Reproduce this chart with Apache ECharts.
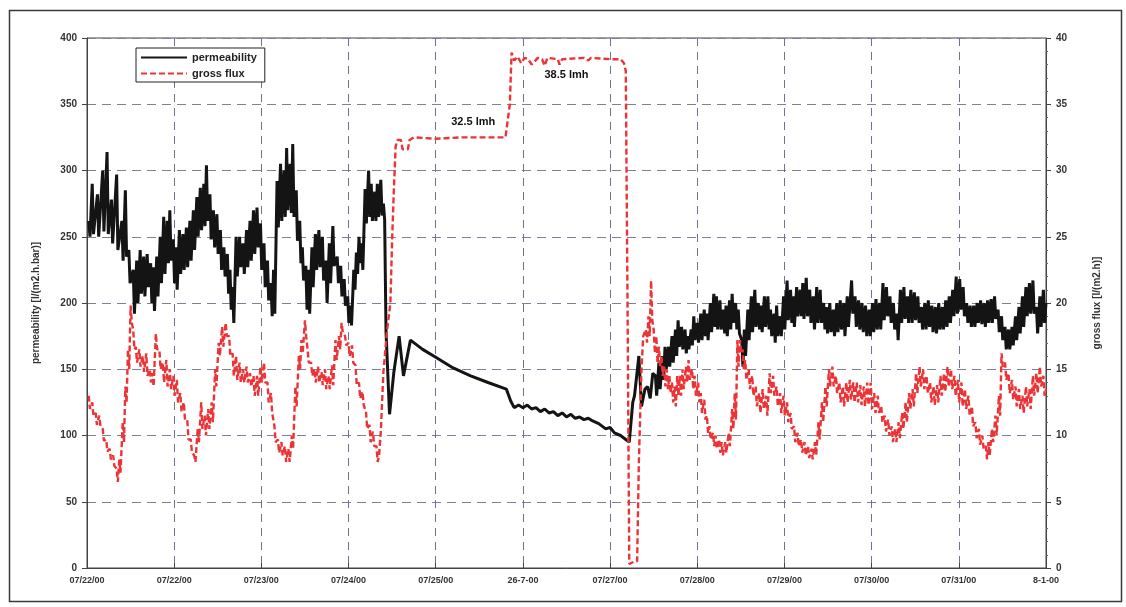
<!DOCTYPE html>
<html>
<head>
<meta charset="utf-8">
<script src="https://cdn.jsdelivr.net/npm/echarts@6/dist/echarts.min.js"></script>
<style>html,body{margin:0;padding:0;background:#fff;}#c{width:1126px;height:607px;}</style>
</head>
<body>
<div id="c"></div>
<script>
// x values are days from the first tick (0) to the last tick (11)
const tickLabels = ['07/22/00','07/22/00','07/23/00','07/24/00','07/25/00','26-7-00','07/27/00','07/28/00','07/29/00','07/30/00','07/31/00','8-1-00'];
const seriesNames = ['permeability', 'gross flux'];
const annotations = [
  { day: 4.43, flux: 33.7, text: '32.5 lmh' },
  { day: 5.50, flux: 37.2, text: '38.5 lmh' }
];
// permeability rows: [day, high, low] (noisy band) or [day, value]
const permRows = [
[0.02,262,250],[0.06,290,252],[0.12,282,250],[0.18,300,254],[0.23,314,252],[0.28,278,245],[0.34,297,240],[0.40,262,232],
[0.44,285,235],[0.48,240,215],[0.53,225,192],[0.57,232,200],[0.61,240,207],[0.65,235,205],[0.69,237,212],[0.73,230,200],
[0.76,227,194],[0.80,235,205],[0.84,250,215],[0.88,265,222],[0.92,262,230],[0.95,270,232],[0.99,248,215],[1.02,242,210],
[1.06,255,222],[1.10,252,225],[1.14,257,227],[1.18,262,232],[1.22,270,240],[1.26,280,250],[1.30,287,255],[1.34,290,258],
[1.37,304,262],[1.41,282,248],[1.45,270,242],[1.49,267,237],[1.53,255,225],[1.57,242,220],[1.61,237,207],[1.64,225,195],
[1.67,212,185],[1.71,250,220],[1.75,250,227],[1.79,245,222],[1.83,255,227],[1.87,262,232],[1.91,270,237],[1.95,272,242],
[1.99,260,225],[2.03,245,212],[2.07,232,202],[2.11,215,190],[2.14,225,192],[2.18,292,257],[2.22,305,262],[2.26,300,265],
[2.29,317,270],[2.33,305,268],[2.36,320,265],[2.40,285,247],[2.44,262,230],[2.47,242,217],[2.51,228,195],[2.54,225,192],
[2.58,242,212],[2.62,252,225],[2.66,255,227],[2.70,250,217],[2.74,232,200],[2.78,245,215],[2.82,258,228],[2.87,235,215],
[2.91,228,205],[2.95,218,198],[2.99,205,185],[3.02,198,183],[3.06,225,210],[3.09,238,222],[3.12,250,230],[3.15,245,225],
[3.19,286,260],[3.23,300,265],[3.26,290,262],[3.30,284,262],[3.33,290,265],[3.37,293,266],[3.40,275,263],
[3.43,178],[3.47,116],[3.52,148],[3.58,175],[3.63,145],[3.71,172],[3.85,165],[4.0,159],[4.2,151],[4.4,145],[4.6,140],
[4.81,135],[4.86,126],[4.9,121],[4.95,123],[5.0,121],[5.05,123],[5.1,120],[5.15,121],[5.2,118],[5.25,120],[5.3,117],
[5.35,118],[5.4,115],[5.45,117],[5.5,114],[5.55,116],[5.6,113],[5.65,114],[5.7,112],[5.75,113],[5.8,111],[5.87,109],
[5.95,105],[6.0,106],[6.05,102],[6.12,100],[6.18,97],[6.22,95],[6.26,125],[6.28,130],[6.33,160],[6.36,122],[6.40,135],
[6.43,137],[6.46,128],[6.49,147],
[6.52,145,130],[6.56,155,135],[6.60,160,142],[6.63,167,150],[6.67,167,152],[6.71,175,155],[6.75,180,160],[6.78,187,167],
[6.82,182,165],[6.86,180,162],[6.89,175,165],[6.93,180,168],[6.96,190,172],[7.00,185,170],[7.04,192,172],[7.08,195,175],
[7.11,192,172],[7.15,200,178],[7.19,207,182],[7.22,205,180],[7.26,202,180],[7.30,195,177],[7.33,198,175],[7.37,202,180],
[7.40,207,185],[7.44,200,180],[7.47,195,177],[7.51,172,152],[7.54,180,160],[7.58,195,172],[7.62,205,178],[7.66,210,182],
[7.70,200,180],[7.73,198,178],[7.77,205,182],[7.81,205,180],[7.84,195,175],[7.88,192,170],[7.91,198,175],[7.95,190,175],
[7.99,205,180],[8.03,217,187],[8.07,210,185],[8.10,205,182],[8.14,212,190],[8.18,210,190],[8.21,215,188],[8.25,219,190],
[8.29,210,185],[8.33,205,180],[8.37,212,185],[8.41,210,185],[8.45,200,180],[8.48,197,177],[8.52,200,178],[8.56,195,175],
[8.60,200,178],[8.64,202,180],[8.68,200,175],[8.72,205,182],[8.77,217,192],[8.81,205,182],[8.85,202,180],[8.89,200,178],
[8.93,198,175],[8.97,195,175],[9.01,200,178],[9.05,203,180],[9.09,200,180],[9.13,215,187],[9.17,212,190],[9.21,205,185],
[9.25,200,180],[9.29,192,172],[9.33,210,185],[9.37,212,188],[9.41,205,185],[9.45,210,185],[9.49,208,187],[9.53,205,185],
[9.57,197,180],[9.61,200,180],[9.65,202,182],[9.69,198,178],[9.73,197,177],[9.77,200,180],[9.81,197,180],[9.85,202,182],
[9.89,205,185],[9.93,210,190],[9.97,220,192],[10.01,218,195],[10.05,212,190],[10.09,200,185],[10.13,198,182],[10.17,198,182],
[10.21,200,185],[10.25,202,184],[10.29,200,182],[10.33,202,185],[10.37,203,185],[10.41,205,188],[10.45,195,178],[10.49,190,172],
[10.53,182,165],[10.57,180,165],[10.61,182,168],[10.65,190,172],[10.69,197,177],[10.73,205,182],[10.77,212,190],[10.81,215,192],
[10.85,217,192],[10.89,197,177],[10.93,205,182],[10.97,210,185],[11.0,200]
];
// gross flux rows: [day, high, low] (noisy band) or [day, value]
const fluxRows = [
[0.02,13.0,12.0],[0.06,12.5,11.5],[0.10,11.7,10.8],[0.14,11.5,10.7],[0.18,10.5,9.6],[0.22,9.7,8.8],[0.26,9.0,8.2],[0.30,8.5,7.7],
[0.34,7.5,6.5],[0.37,8.2,7.2],[0.41,11,9.5],[0.44,13.7,12.5],[0.47,16.5,15],[0.50,19.8,18.5],[0.53,18,16.5],[0.56,16.7,15.5],
[0.60,16.5,15.2],[0.64,16,14.8],[0.68,16.2,14.5],[0.72,15,14],[0.75,14.7,13.7],[0.79,17.7,16.5],[0.83,16.5,15],[0.87,15.5,14],
[0.91,15.7,13.7],[0.95,15,13.5],[0.99,14.5,13],[1.03,14.2,12.5],[1.07,13.2,11.8],[1.11,12.5,11.2],[1.15,11.2,9.7],[1.19,9.7,8.7],
[1.23,8.5,8.0],[1.27,10.5,9.5],[1.31,12.5,10.5],[1.35,11.5,10],[1.39,12,10.5],[1.43,12.5,11],[1.47,15,13.7],[1.51,17,16],
[1.55,18.2,16.7],[1.59,18.5,17.5],[1.63,17.5,16],[1.67,16.2,14.5],[1.71,16,14.2],[1.75,15.5,14],[1.79,15,14],[1.83,15.2,14],
[1.87,14.7,13.7],[1.91,14.5,13],[1.95,14.5,13],[1.99,15.2,14],[2.03,15.5,14],[2.07,14,12.5],[2.11,13.2,11.7],[2.15,10.7,9.5],
[2.19,9.7,8.7],[2.23,9.5,8.5],[2.27,9.2,8.0],[2.31,9.0,8.0],[2.35,10,9],[2.39,13.7,12.2],[2.43,16,15],[2.46,17.2,16.2],
[2.50,18.7,17.5],[2.53,16.5,15.5],[2.57,15.5,14.5],[2.61,15,14],[2.65,15.2,14],[2.69,14.8,13.8],[2.73,15,13.5],[2.77,14.5,13.5],
[2.81,15.3,13.8],[2.85,17.2,15.7],[2.89,17.5,16.5],[2.92,18.5,17.8],[2.96,17.5,16.8],[3.00,17,16],[3.04,16.8,15.5],[3.08,15.3,13.8],
[3.12,14,12.8],[3.16,13.3,12.3],[3.20,11.8,10.5],[3.24,10.8,9.5],[3.28,10.3,9.2],[3.32,9.2,8.0],
[3.35,8.5],[3.37,10.3],[3.40,14.8],[3.44,17.8],[3.48,20],[3.50,24.8],[3.52,28.6],[3.54,31.8],[3.56,32.3],[3.60,32.3],
[3.62,31.6],[3.68,31.6],[3.70,32.3],[3.75,32.5],[4.0,32.4],[4.3,32.5],[4.6,32.5],[4.80,32.5],[4.82,33.5],[4.85,35],
[4.87,38.9],[4.90,38.3],[4.94,38.6],[4.98,38.1],[5.02,38.5],[5.06,38.4],[5.10,38.0],[5.13,38.2],[5.17,38.5],[5.22,38.4],
[5.25,37.9],[5.28,38.5],[5.40,38.4],[5.42,38.0],[5.45,38.4],[5.70,38.5],[5.75,38.3],[5.78,38.5],[6.0,38.4],[6.12,38.4],
[6.16,38.1],[6.18,37.5],[6.20,20],[6.22,0.3],[6.28,0.5],[6.31,0.5],[6.33,8],[6.36,15],[6.38,17.5],[6.41,18,17],
[6.44,19,17.5],[6.47,21.7,18.7],[6.50,18,16.2],[6.53,17.5,15.5],[6.56,16.7,15.2],[6.59,16,14.5],[6.62,15.2,13.7],[6.65,15,13.5],
[6.68,14.5,13.2],[6.71,14,12.5],[6.74,13.7,12.2],[6.77,14.5,13],[6.80,14.5,13],[6.83,15,13.5],[6.87,15.2,14],[6.90,15.7,14.2],
[6.94,15,13.5],[6.97,14.5,13],[7.01,14,12.5],[7.04,13.2,11.7],[7.08,12.7,11.2],[7.11,11.5,10.2],[7.14,10.7,9.7],[7.18,10.2,9.2],
[7.21,10,9],[7.25,9.7,8.7],[7.28,9.5,8.5],[7.32,9.5,8.7],[7.36,10.2,9.2],[7.40,12,10.5],[7.43,13.2,11.2],[7.46,17.2,15.2],
[7.49,17.2,16.2],[7.52,16.5,15],[7.55,15.7,14.2],[7.59,15,13.5],[7.63,14.5,13],[7.67,13.7,12.2],[7.71,13.2,11.7],[7.75,13.5,12],
[7.79,13,11.5],[7.83,14.7,13.2],[7.87,14.5,13],[7.91,13.7,12.2],[7.95,13.2,11.7],[7.99,13,11.5],[8.03,12.5,11],[8.07,11.7,10.5],
[8.11,10.7,9.5],[8.15,10.2,9.2],[8.19,9.7,8.7],[8.23,9.5,8.5],[8.27,9.2,8.3],[8.31,9,8.2],[8.35,9.5,8.5],[8.39,11,9.7],
[8.43,12.5,11],[8.47,13.7,12.2],[8.51,15,13.7],[8.55,15.2,13.7],[8.59,14.5,13.2],[8.63,14,12.5],[8.67,13.7,12.2],[8.71,14,12.5],
[8.75,14.2,12.7],[8.79,14,12.5],[8.83,14,12.5],[8.87,13.8,12.3],[8.91,13.7,12.2],[8.95,14,12.3],[8.99,14,12],[9.03,13.2,11.7],
[9.07,13,11.7],[9.11,12.2,11],[9.15,11.5,10.3],[9.19,11.2,10],[9.23,10.7,9.5],[9.27,10.5,9.5],[9.31,11,9.8],[9.35,11.7,10.5],
[9.39,12.5,11],[9.43,13.2,12],[9.47,13.5,12.2],[9.51,14.7,13.2],[9.55,15.2,13.7],[9.59,15,13.5],[9.63,14.5,13.2],[9.67,14,12.5],
[9.71,13.7,12.3],[9.75,13.8,12.5],[9.79,14.5,13],[9.83,14.7,13.3],[9.87,15.2,13.7],[9.91,15,13.5],[9.95,14.5,13],[9.99,14.2,12.5],
[10.03,14,12.2],[10.07,13.5,12],[10.11,13,11.5],[10.15,12.2,10.7],[10.19,11,9.8],[10.23,10.5,9.3],[10.27,10,9],[10.31,9.2,8.2],
[10.34,9.5,8.5],[10.38,10.5,9.5],[10.42,11.5,10],[10.46,13,11.5],[10.49,16.2,15.2],[10.53,15.5,14.2],[10.57,14.7,13.2],[10.61,14.2,12.7],
[10.65,13.7,12.2],[10.69,13.5,12],[10.73,13,11.7],[10.77,13.7,12.2],[10.81,13.5,12],[10.85,14.5,13],[10.89,14.7,13.2],[10.93,15.2,13.7],
[10.97,14.5,13],[11.0,13.5]
];

function expand(rows) {
  const out = [];
  rows.forEach(r => {
    out.push([r[0], r[1]]);
    if (r.length > 2) out.push([r[0] + 0.014, r[2]]);
  });
  return out;
}

const FONT = '"Liberation Sans", Arial, sans-serif';
const gridLine = { show: true, lineStyle: { color: '#7d8196', type: [9, 6], width: 1 } };
const chart = echarts.init(document.getElementById('c'), null, { renderer: 'canvas' });
chart.setOption({
  animation: false,
  backgroundColor: '#ffffff',
  graphic: [{
    type: 'rect', left: 7, top: 8, z: -1,
    shape: { width: 1112, height: 591 },
    style: { fill: 'none', stroke: '#3a3a3a', lineWidth: 1.5 }
  }],
  grid: { left: 87, right: 80, top: 38, bottom: 39, show: true, borderColor: '#444', borderWidth: 1, backgroundColor: 'transparent' },
  legend: {
    orient: 'vertical', left: 136, top: 48,
    itemWidth: 46, itemHeight: 10, itemGap: 5,
    padding: [4, 8, 3, 4],
    borderColor: '#222', borderWidth: 1, backgroundColor: '#fff',
    itemStyle: { opacity: 0 },
    textStyle: { fontFamily: FONT, fontWeight: 'bold', fontSize: 11, color: '#222' },
    data: seriesNames
  },
  xAxis: {
    type: 'value', min: 0, max: 11, interval: 1,
    axisLine: { show: true, lineStyle: { color: '#444', width: 1 } },
    axisTick: { show: true, inside: true, length: 5, lineStyle: { color: '#444' } },
    axisLabel: {
      showMinLabel: true, showMaxLabel: true, margin: 8,
      fontFamily: FONT, fontWeight: 'bold', fontSize: 9, color: '#333',
      formatter: v => tickLabels[Math.round(v)] || ''
    },
    splitLine: { show: true, lineStyle: { color: '#6d7390', type: [8, 6], width: 1 } }
  },
  yAxis: [{
    type: 'value', min: 0, max: 400, interval: 50,
    name: 'permeability [l/(m2.h.bar)]', nameLocation: 'middle', nameGap: 46, nameRotate: 90,
    nameTextStyle: { fontFamily: FONT, fontWeight: 'bold', fontSize: 10, color: '#333' },
    axisLine: { show: true, lineStyle: { color: '#444' } },
    axisTick: { show: true, length: 5, lineStyle: { color: '#444' } },
    axisLabel: { fontFamily: FONT, fontWeight: 'bold', fontSize: 10, color: '#333', margin: 10 },
    splitLine: gridLine
  }, {
    type: 'value', min: 0, max: 40, interval: 5, position: 'right',
    name: 'gross flux [l/(m2.h)]', nameLocation: 'middle', nameGap: 46, nameRotate: 90,
    nameTextStyle: { fontFamily: FONT, fontWeight: 'bold', fontSize: 10, color: '#333' },
    axisLine: { show: true, lineStyle: { color: '#444' } },
    axisTick: { show: true, length: 5, lineStyle: { color: '#444' } },
    minorTick: { show: true, splitNumber: 5, length: 2, lineStyle: { color: '#666' } },
    axisLabel: { fontFamily: FONT, fontWeight: 'bold', fontSize: 10, color: '#333', margin: 10 },
    splitLine: { show: false }
  }],
  series: [{
    name: seriesNames[0], type: 'line', yAxisIndex: 0, z: 2,
    data: expand(permRows), showSymbol: false, symbol: 'none',
    lineStyle: { color: '#141414', width: 3 },
    itemStyle: { color: '#141414' }
  }, {
    name: seriesNames[1], type: 'line', yAxisIndex: 1, z: 3,
    data: expand(fluxRows), showSymbol: false, symbol: 'none',
    lineStyle: { color: '#ec3437', width: 2.4, type: [6, 3] },
    itemStyle: { color: '#ec3437' }
  }, {
    name: 'annotations', type: 'scatter', yAxisIndex: 1, z: 5, silent: true,
    symbolSize: 1, itemStyle: { color: '#ffffff', opacity: 1 },
    label: { show: true, position: 'inside', fontFamily: FONT, fontWeight: 'bold', fontSize: 11, color: '#111', opacity: 1,
      formatter: p => p.data.text },
    data: annotations.map(a => ({ value: [a.day, a.flux], text: a.text }))
  }]
});
</script>
</body>
</html>
